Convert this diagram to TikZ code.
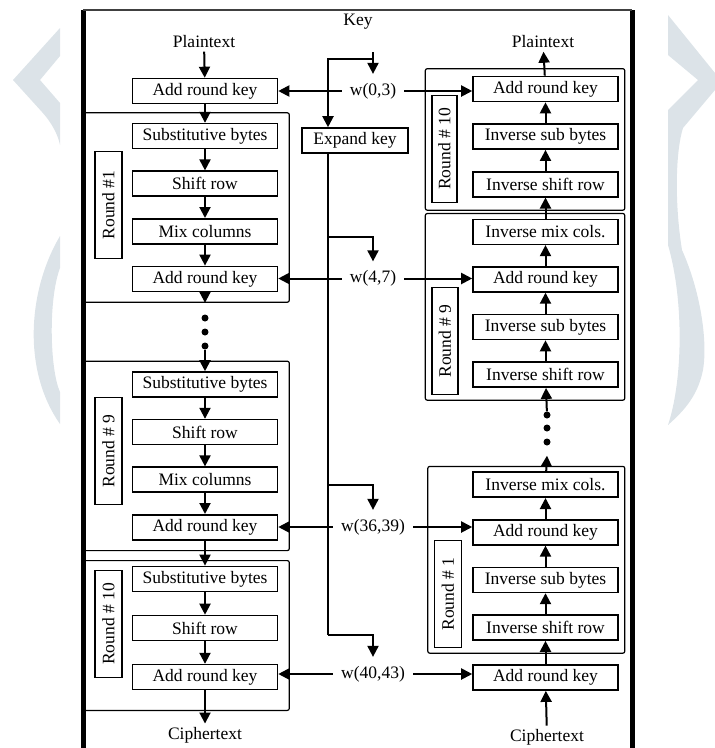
\documentclass[tikz,border=0pt]{standalone}
\usepackage{fontspec}
\setmainfont{Liberation Serif}
\usetikzlibrary{arrows.meta,positioning,fit,calc}
\definecolor{wmgray}{HTML}{DCE3E8}
\tikzset{%
  % boxes
  stepbox/.style={draw, line width=1.6pt, minimum width=145pt, minimum height=25pt, inner sep=0pt},
  keybox/.style={stepbox, minimum width=106pt},
  roundlbl/.style={draw, line width=1.4pt, rotate=90, minimum width=107pt, minimum height=27pt, inner sep=0pt},
  group/.style={draw, line width=1.2pt, rounded corners=2pt, inner sep=0pt},
  wlbl/.style={inner xsep=8pt, inner ysep=9pt},
  dotmark/.style={circle, fill, inner sep=0pt, minimum size=7pt},
  % edge styles
  arr/.style={-{Triangle[length=11pt,width=11pt]}, line width=2pt},
  keyline/.style={line width=1.5pt},
  outerline/.style={line width=5pt},
  wm/.style={fill=wmgray},
}

\begin{document}
\begin{tikzpicture}[x=1pt, y=-1pt, node distance=21pt, font=\fontsize{17.5}{20}\selectfont]
  \useasboundingbox (0,0) rectangle (715,748);

  % watermark
  \begin{scope}
    \clip (0,0) rectangle (60,748);
    \fill[wm] (60,28) -- (13,80) -- (42,112) .. controls (52,123) and (58,135) .. (60,145)
      -- (60,103) -- (40,80) -- (60,56) -- cycle;
    \fill[wm] (60,236) .. controls (28,290) and (22,370) .. (60,424)
      -- (60,392) .. controls (50,370) and (48,300) .. (60,268) -- cycle;
  \end{scope}
  \begin{scope}
    \clip (668,0) rectangle (715,748);
    \fill[wm] (668,15) -- (715,73) -- (715,90) -- (683,128)
      .. controls (676,150) and (674,200) .. (682,250)
      .. controls (700,290) and (708,340) .. (703,370)
      .. controls (698,395) and (685,410) .. (668,425)
      .. controls (683,380) and (684,300) .. (668,245)
      -- (668,110) -- (698,80) -- (668,55) -- cycle;
  \end{scope}

  % frame
  \draw[outerline] (83,10) -- (83,748);
  \draw[outerline] (632,10) -- (632,748);
  \draw[line width=1.5pt, black!75] (83,10) -- (632,10);

  % Encryption
  \node (lpt) at (204,42) {Plaintext};
  \node[stepbox] (eark0) at (205,91) {Add round key};
  \node[stepbox, below=18.5pt of eark0] (esub1) {Substitutive bytes};
  \node[stepbox, below=of esub1] (eshr1) {Shift row};
  \node[stepbox, below=of eshr1] (emix1) {Mix columns};
  \node[stepbox, below=of emix1] (eark1) {Add round key};
  \node[roundlbl] (elab1) at (108.5,205) {Round \#1};
  \node[group, fit=(elab1)(esub1)(eark1), inner xsep=11pt, inner ysep=10pt] (eround1) {};

  \node[dotmark] (ld1) at (205,318) {};
  \node[dotmark] (ld2) at (205,332) {};
  \node[dotmark] (ld3) at (205,346) {};

  \node[stepbox, below=79pt of eark1] (esub9) {Substitutive bytes};
  \node[stepbox, below=of esub9] (eshr9) {Shift row};
  \node[stepbox, below=of eshr9] (emix9) {Mix columns};
  \node[stepbox, below=of emix9] (eark9) {Add round key};
  \node[roundlbl] (elab9) at (108.5,451) {Round \# 9};
  \node[group, fit=(elab9)(esub9)(eark9), inner xsep=11pt, inner ysep=10pt] (eround9) {};

  \node[stepbox, below=25pt of eark9] (esub10) {Substitutive bytes};
  \node[stepbox, below=22.5pt of esub10] (eshr10) {Shift row};
  \node[stepbox, below=22.5pt of eshr10] (eark10) {Add round key};
  \node[roundlbl] (elab10) at (108.5,624) {Round \# 10};
  \coordinate[below=15pt of eark10.south] (e10foot);
  \node[group, fit=(elab10)(esub10)(eark10)(e10foot), inner xsep=11pt, inner ysep=5pt] (eround10) {};
  \node (lct) at (205,735) {Ciphertext};

  % Key schedule
  \node (key) at (358,22) {Key};
  \coordinate (keyin) at (373,52);
  \coordinate (keysplit) at (373,59);
  \node[keybox] (expand) at (355,140.5) {Expand key};
  \node[wlbl] (w03) at (373,91) {w(0,3)};
  \node[wlbl] (w47) at (373,278.5) {w(4,7)};
  \node[wlbl] (w3639) at (373,527) {w(36,39)};
  \node[wlbl] (w4043) at (373,674) {w(40,43)};
  \coordinate (kb47) at (328,237);
  \coordinate (kb3639) at (328,485);
  \coordinate (kb4043) at (328,635);

  % Decryption
  \node (rpt) at (543,42) {Plaintext};
  \node[stepbox] (dark10) at (545.5,89) {Add round key};
  \node[stepbox, below=of dark10] (disb10) {Inverse sub bytes};
  \node[stepbox, below=of disb10] (disr10) {Inverse shift row};
  \node[roundlbl, minimum height=25pt] (dlab10) at (444.5,149) {Round \# 10};
  \node[group, fit=(dlab10)(dark10)(disr10), inner xsep=6pt, inner ysep=7pt] (dround10) {};

  \node[stepbox, below=of disr10] (dimc9) {Inverse mix cols.};
  \node[stepbox, below=of dimc9] (dark9) {Add round key};
  \node[stepbox, below=of dark9] (disb9) {Inverse sub bytes};
  \node[stepbox, below=of disb9] (disr9) {Inverse shift row};
  \node[roundlbl, minimum height=26pt] (dlab9) at (445,341) {Round \# 9};
  \node[group, fit=(dlab9)(dimc9)(disr9), inner xsep=6pt, inner ysep=5pt] (dround9) {};

  \node[dotmark] (rd1) at (547,415) {};
  \node[dotmark] (rd2) at (547,428) {};
  \node[dotmark] (rd3) at (547,442) {};

  \node[stepbox, below=83.5pt of disr9] (dimc1) {Inverse mix cols.};
  \node[stepbox, below=of dimc1] (dark1) {Add round key};
  \node[stepbox, below=of dark1] (disb1) {Inverse sub bytes};
  \node[stepbox, below=of disb1] (disr1) {Inverse shift row};
  \node[roundlbl] (dlab1) at (448,594) {Round \# 1};
  \node[group, fit=(dlab1)(dimc1)(disr1), inner xsep=6pt, inner ysep=5pt] (dround1) {};
  \node[stepbox, below=23.5pt of disr1] (darkF) {Add round key};
  \node (rct) at (547,737) {Ciphertext};

  % Links, encryption
  \draw[arr] (lpt) -- (eark0);
  \draw[arr] (eark0) -- (esub1);
  \draw[arr] (esub1) -- (eshr1);
  \draw[arr] (eshr1) -- (emix1);
  \draw[arr] (emix1) -- (eark1);
  \draw[arr] (eark1) -- (eark1 |- eround1.south);
  \draw[arr] (ld3) -- (esub9);
  \draw[arr] (esub9) -- (eshr9);
  \draw[arr] (eshr9) -- (emix9);
  \draw[arr] (emix9) -- (eark9);
  \draw[arr] (eark9) -- (esub10);
  \draw[arr] (esub10) -- (eshr10);
  \draw[arr] (eshr10) -- (eark10);
  \draw[arr] (eark10) -- (lct);

  % Links, key
  \draw[arr] (keyin) -- (w03);
  \draw[arr] (keysplit) -| ([xshift=-27pt]expand.north);
  \draw[keyline] ([xshift=-27pt]expand.south) -- (kb4043);
  \draw[arr] (kb47) -| (w47);
  \draw[arr] (kb3639) -| (w3639);
  \draw[arr] (kb4043) -| (w4043);
  \draw[arr] (w03) -- (w03 -| eark0.east);
  \draw[arr] (w47) -- (w47 -| eark1.east);
  \draw[arr] (w3639) -- (w3639 -| eark9.east);
  \draw[arr] (w4043) -- (w4043 -| eark10.east);
  \draw[arr] (w03) -- (w03 -| dark10.west);
  \draw[arr] (w47) -- (w47 -| dark9.west);
  \draw[arr] (w3639) -- (w3639 -| dark1.west);
  \draw[arr] (w4043) -- (w4043 -| darkF.west);

  % Links, decryption
  \draw[arr] (dark10) -- (rpt);
  \draw[arr] (disb10) -- (dark10);
  \draw[arr] (disr10) -- (disb10);
  \draw[arr] (dimc9) -- (disr10);
  \draw[arr] (dark9) -- (dimc9);
  \draw[arr] (disb9) -- (dark9);
  \draw[arr] (disr9) -- (disb9);
  \draw[arr] (rd1) -- (disr9);
  \draw[arr] (dimc1) -- ([yshift=-10pt]rd3.south);
  \draw[arr] (dark1) -- (dimc1);
  \draw[arr] (disb1) -- (dark1);
  \draw[arr] (disr1) -- (disb1);
  \draw[arr] (darkF) -- (disr1);
  \draw[arr] (rct) -- (darkF);
\end{tikzpicture}
\end{document}
